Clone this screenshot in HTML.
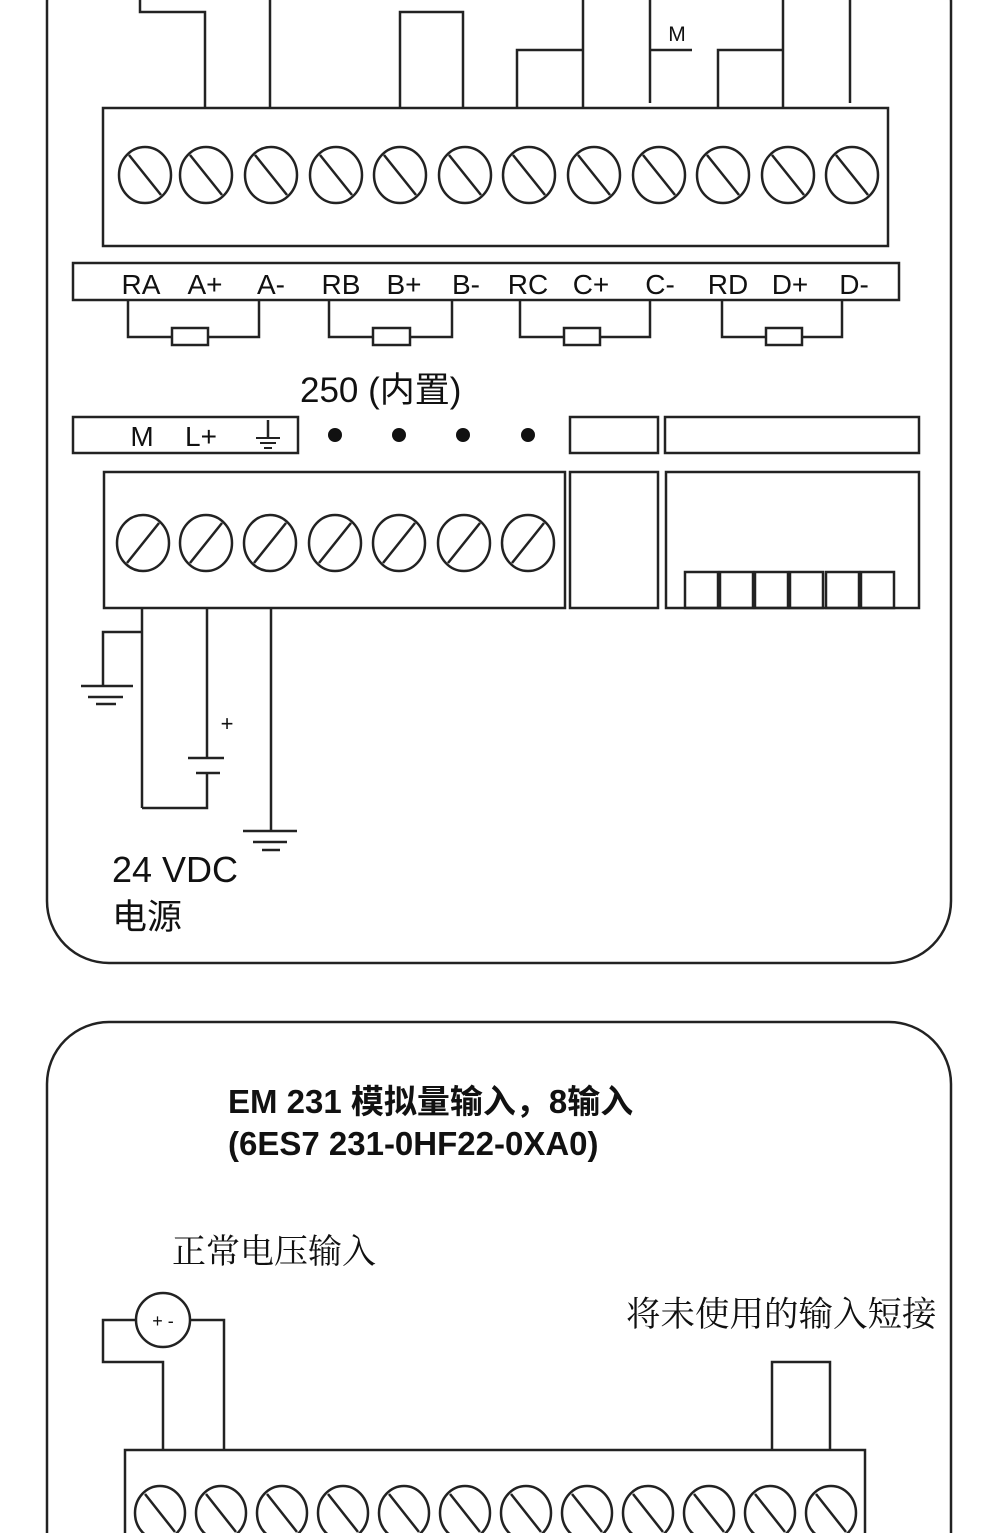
<!DOCTYPE html>
<html><head><meta charset="utf-8"><style>
html,body{margin:0;padding:0;background:#fff;width:990px;height:1533px;overflow:hidden}
svg{display:block}
text{font-family:"Liberation Sans","Noto Sans CJK SC",sans-serif;fill:#111}
</style></head><body>
<svg width="990" height="1533" viewBox="0 0 990 1533" xmlns="http://www.w3.org/2000/svg">
<g fill="none" stroke="#222" stroke-width="2.5">
<rect x="47" y="-60" width="904" height="1023" rx="62"/>
<rect x="47" y="1022" width="904" height="600" rx="62"/>
<polyline points="140,0 140,12 205,12 205,108"/>
<line x1="270" y1="0" x2="270" y2="108"/>
<polyline points="400,108 400,12 463,12 463,108"/>
<polyline points="517,108 517,50 583,50"/>
<line x1="583" y1="0" x2="583" y2="108"/>
<polyline points="650,0 650,103"/>
<line x1="650" y1="50" x2="692" y2="50"/>
<polyline points="718,108 718,50 783,50"/>
<line x1="783" y1="0" x2="783" y2="108"/>
<line x1="850" y1="0" x2="850" y2="103"/>
<rect x="103" y="108" width="785" height="138"/>
<rect x="73" y="263" width="826" height="37"/>
<polyline points="128,300 128,337 172,337"/><polyline points="208,337 259,337 259,300"/><rect x="172" y="328" width="36" height="17"/>
<polyline points="329,300 329,337 373,337"/><polyline points="410,337 452,337 452,300"/><rect x="373" y="328" width="37" height="17"/>
<polyline points="520,300 520,337 564,337"/><polyline points="600,337 650,337 650,300"/><rect x="564" y="328" width="36" height="17"/>
<polyline points="722,300 722,337 766,337"/><polyline points="802,337 842,337 842,300"/><rect x="766" y="328" width="36" height="17"/>
<rect x="73" y="417" width="225" height="36"/>
<rect x="570" y="417" width="88" height="36"/>
<rect x="665" y="417" width="254" height="36"/>
<rect x="104" y="472" width="461" height="136"/>
<rect x="570" y="472" width="88" height="136"/>
<rect x="666" y="472" width="253" height="136"/>
<rect x="685" y="572" width="33" height="36"/><rect x="720" y="572" width="33" height="36"/><rect x="755" y="572" width="33" height="36"/><rect x="790" y="572" width="33" height="36"/><rect x="826" y="572" width="33" height="36"/><rect x="861" y="572" width="33" height="36"/>
<line x1="268" y1="420" x2="268" y2="438"/><line x1="256" y1="438" x2="280" y2="438" stroke-width="2"/><line x1="260" y1="443" x2="276" y2="443" stroke-width="2"/><line x1="264" y1="448" x2="272" y2="448" stroke-width="2"/>
<line x1="142" y1="608" x2="142" y2="808"/>
<polyline points="142,632 103,632 103,686"/>
<line x1="81" y1="686" x2="133" y2="686"/><line x1="88" y1="697" x2="123" y2="697"/><line x1="96" y1="704" x2="116" y2="704"/>
<line x1="207" y1="608" x2="207" y2="758"/>
<line x1="188" y1="758" x2="224" y2="758"/><line x1="196" y1="773" x2="220" y2="773"/>
<polyline points="207,773 207,808 142,808"/>
<line x1="271" y1="608" x2="271" y2="831"/>
<line x1="243" y1="831" x2="297" y2="831"/><line x1="253" y1="842" x2="287" y2="842"/><line x1="262" y1="850" x2="280" y2="850"/>
<circle cx="163" cy="1320" r="27"/>
<polyline points="136,1320 103,1320 103,1362 163,1362 163,1450"/>
<polyline points="190,1320 224,1320 224,1450"/>
<polyline points="772,1450 772,1362 830,1362 830,1450"/>
<rect x="125" y="1450" width="740" height="100"/>
</g>
<g fill="none" stroke="#222" stroke-width="2.5">
<g transform="translate(145,175)"><ellipse rx="26" ry="28"/><line x1="-16" y1="-20" x2="16" y2="20"/></g>
<g transform="translate(206,175)"><ellipse rx="26" ry="28"/><line x1="-16" y1="-20" x2="16" y2="20"/></g>
<g transform="translate(271,175)"><ellipse rx="26" ry="28"/><line x1="-16" y1="-20" x2="16" y2="20"/></g>
<g transform="translate(336,175)"><ellipse rx="26" ry="28"/><line x1="-16" y1="-20" x2="16" y2="20"/></g>
<g transform="translate(400,175)"><ellipse rx="26" ry="28"/><line x1="-16" y1="-20" x2="16" y2="20"/></g>
<g transform="translate(465,175)"><ellipse rx="26" ry="28"/><line x1="-16" y1="-20" x2="16" y2="20"/></g>
<g transform="translate(529,175)"><ellipse rx="26" ry="28"/><line x1="-16" y1="-20" x2="16" y2="20"/></g>
<g transform="translate(594,175)"><ellipse rx="26" ry="28"/><line x1="-16" y1="-20" x2="16" y2="20"/></g>
<g transform="translate(659,175)"><ellipse rx="26" ry="28"/><line x1="-16" y1="-20" x2="16" y2="20"/></g>
<g transform="translate(723,175)"><ellipse rx="26" ry="28"/><line x1="-16" y1="-20" x2="16" y2="20"/></g>
<g transform="translate(788,175)"><ellipse rx="26" ry="28"/><line x1="-16" y1="-20" x2="16" y2="20"/></g>
<g transform="translate(852,175)"><ellipse rx="26" ry="28"/><line x1="-16" y1="-20" x2="16" y2="20"/></g>
</g>
<g fill="none" stroke="#222" stroke-width="2.5">
<g transform="translate(143,543)"><ellipse rx="26" ry="28"/><line x1="-16" y1="20" x2="16" y2="-20"/></g>
<g transform="translate(206,543)"><ellipse rx="26" ry="28"/><line x1="-16" y1="20" x2="16" y2="-20"/></g>
<g transform="translate(270,543)"><ellipse rx="26" ry="28"/><line x1="-16" y1="20" x2="16" y2="-20"/></g>
<g transform="translate(335,543)"><ellipse rx="26" ry="28"/><line x1="-16" y1="20" x2="16" y2="-20"/></g>
<g transform="translate(399,543)"><ellipse rx="26" ry="28"/><line x1="-16" y1="20" x2="16" y2="-20"/></g>
<g transform="translate(464,543)"><ellipse rx="26" ry="28"/><line x1="-16" y1="20" x2="16" y2="-20"/></g>
<g transform="translate(528,543)"><ellipse rx="26" ry="28"/><line x1="-16" y1="20" x2="16" y2="-20"/></g>
</g>
<g fill="none" stroke="#222" stroke-width="2.5">
<g transform="translate(160,1513)"><ellipse rx="25" ry="27"/><line x1="-15" y1="-19" x2="15" y2="19"/></g>
<g transform="translate(221,1513)"><ellipse rx="25" ry="27"/><line x1="-15" y1="-19" x2="15" y2="19"/></g>
<g transform="translate(282,1513)"><ellipse rx="25" ry="27"/><line x1="-15" y1="-19" x2="15" y2="19"/></g>
<g transform="translate(343,1513)"><ellipse rx="25" ry="27"/><line x1="-15" y1="-19" x2="15" y2="19"/></g>
<g transform="translate(404,1513)"><ellipse rx="25" ry="27"/><line x1="-15" y1="-19" x2="15" y2="19"/></g>
<g transform="translate(465,1513)"><ellipse rx="25" ry="27"/><line x1="-15" y1="-19" x2="15" y2="19"/></g>
<g transform="translate(526,1513)"><ellipse rx="25" ry="27"/><line x1="-15" y1="-19" x2="15" y2="19"/></g>
<g transform="translate(587,1513)"><ellipse rx="25" ry="27"/><line x1="-15" y1="-19" x2="15" y2="19"/></g>
<g transform="translate(648,1513)"><ellipse rx="25" ry="27"/><line x1="-15" y1="-19" x2="15" y2="19"/></g>
<g transform="translate(709,1513)"><ellipse rx="25" ry="27"/><line x1="-15" y1="-19" x2="15" y2="19"/></g>
<g transform="translate(770,1513)"><ellipse rx="25" ry="27"/><line x1="-15" y1="-19" x2="15" y2="19"/></g>
<g transform="translate(831,1513)"><ellipse rx="25" ry="27"/><line x1="-15" y1="-19" x2="15" y2="19"/></g>
</g>
<g fill="#111">
<circle cx="335" cy="435" r="7"/><circle cx="399" cy="435" r="7"/><circle cx="463" cy="435" r="7"/><circle cx="528" cy="435" r="7"/>
</g>
<text x="677" y="41" font-size="21" text-anchor="middle">M</text>
<g font-size="28" text-anchor="middle">
<text x="141" y="294">RA</text><text x="205" y="294">A+</text><text x="271" y="294">A-</text>
<text x="341" y="294">RB</text><text x="404" y="294">B+</text><text x="466" y="294">B-</text>
<text x="528" y="294">RC</text><text x="591" y="294">C+</text><text x="660" y="294">C-</text>
<text x="728" y="294">RD</text><text x="790" y="294">D+</text><text x="854" y="294">D-</text>
<text x="142" y="446">M</text><text x="201" y="446">L+</text>
</g>
<text x="300" y="402" font-size="35">250 (内置)</text>
<text x="227" y="731" font-size="22" text-anchor="middle">+</text>
<text x="112" y="882" font-size="36">24 VDC</text>
<text x="112" y="929" font-size="35">电源</text>
<text x="228" y="1113" font-size="33" font-weight="bold">EM 231 模拟量输入，8输入</text>
<text x="228" y="1155" font-size="33" font-weight="bold">(6ES7 231-0HF22-0XA0)</text>
<text x="172" y="1263" font-size="34" style="font-family:'Liberation Serif','Noto Serif CJK SC',serif">正常电压输入</text>
<text x="626" y="1326" font-size="34.5" style="font-family:'Liberation Serif','Noto Serif CJK SC',serif">将未使用的输入短接</text>
<text x="163" y="1327" font-size="18" text-anchor="middle">+ -</text>
</svg>
</body></html>
